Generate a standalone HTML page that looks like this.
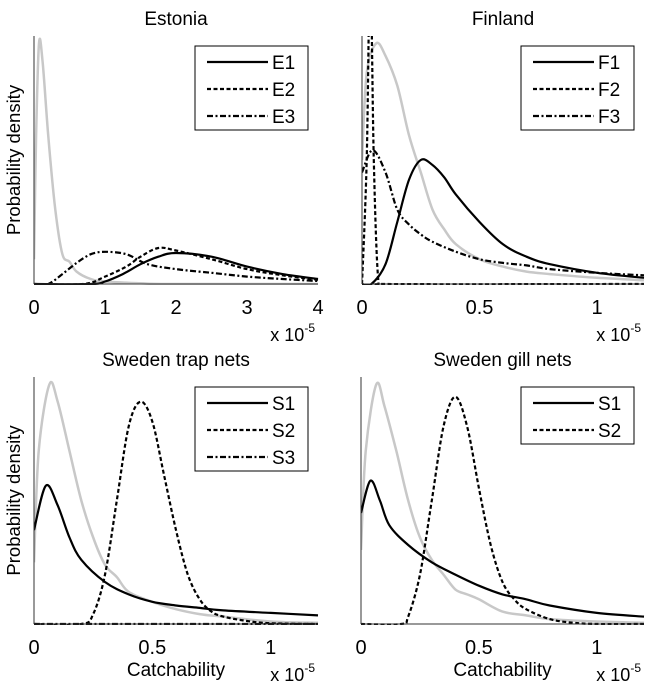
<!DOCTYPE html>
<html><head><meta charset="utf-8"><style>
html,body{margin:0;padding:0;background:#fff;}
svg{display:block;font-family:"Liberation Sans",Arial,sans-serif;}
</style></head><body>
<svg id="chart" width="651" height="691" viewBox="0 0 651 691"></svg>
<script>
// ---- data (x in 1e-5 units, y as fraction of panel height) ----
const estGrayX=[0,0.03,0.07,0.12,0.2,0.3,0.4,0.5,0.6,0.8,1.0,1.5,2.0,4.0];
const estGrayY=[0.1,0.6,0.97,0.9,0.6,0.3,0.12,0.09,0.05,0.02,0.01,0.003,0,0];
const e1X=[0,0.8,1.0,1.25,1.5,1.75,2.0,2.5,3.0,3.5,4.0];
const e1Y=[0,0,0.01,0.04,0.08,0.11,0.125,0.11,0.07,0.04,0.02];
const e2X=[0,0.7,1.0,1.3,1.5,1.75,2.0,2.5,3.0,3.5,4.0];
const e2Y=[0,0,0.03,0.07,0.11,0.145,0.135,0.1,0.06,0.035,0.017];
const e3X=[0,0.2,0.4,0.6,0.8,1.0,1.3,1.6,2.0,2.5,3.0,3.5,4.0];
const e3Y=[0,0,0.04,0.085,0.12,0.13,0.12,0.08,0.06,0.045,0.03,0.02,0.012];

const finGrayX=[0,0.02,0.06,0.1,0.15,0.2,0.25,0.3,0.35,0.4,0.5,0.6,0.7,0.8,1.0,1.2];
const finGrayY=[0.5,0.85,0.97,0.92,0.8,0.6,0.45,0.3,0.22,0.16,0.1,0.07,0.05,0.04,0.025,0.015];
const f1X=[0,0.04,0.1,0.15,0.2,0.25,0.3,0.35,0.4,0.5,0.6,0.7,0.8,1.0,1.2];
const f1Y=[0,0,0.08,0.25,0.42,0.5,0.48,0.43,0.36,0.25,0.16,0.11,0.08,0.045,0.025];
const f2X=[0,0.02,0.035,0.05,0.07,0.1,1.2];
const f2Y=[0,0.5,1.3,0.5,0.01,0,0];
const f3X=[0,0.045,0.1,0.15,0.2,0.25,0.3,0.4,0.5,0.6,0.7,0.8,1.0,1.2];
const f3Y=[0.45,0.54,0.45,0.3,0.24,0.2,0.17,0.13,0.1,0.085,0.075,0.06,0.045,0.035];

const trapGrayX=[0,0.02,0.065,0.1,0.15,0.2,0.25,0.3,0.35,0.4,0.5,0.6,0.7,0.8,1.0,1.2];
const trapGrayY=[0.25,0.7,0.97,0.9,0.7,0.5,0.35,0.24,0.19,0.13,0.09,0.06,0.04,0.03,0.01,0.005];
const ts1X=[0,0.05,0.1,0.15,0.2,0.3,0.4,0.5,0.6,0.7,0.8,1.0,1.2];
const ts1Y=[0.38,0.56,0.48,0.35,0.26,0.17,0.12,0.09,0.075,0.065,0.055,0.045,0.035];
const ts2X=[0,0.2,0.25,0.3,0.35,0.4,0.45,0.5,0.55,0.6,0.65,0.7,0.75,0.8,0.9,1.0,1.2];
const ts2Y=[0,0,0.04,0.2,0.5,0.8,0.9,0.82,0.6,0.38,0.2,0.1,0.05,0.03,0.012,0.003,0];
const ts3X=[0,1.2];
const ts3Y=[0,0];

const gillGrayX=[0,0.02,0.065,0.1,0.15,0.2,0.25,0.3,0.35,0.4,0.45,0.5,0.6,0.7,0.8,1.0,1.2];
const gillGrayY=[0.3,0.7,0.97,0.88,0.7,0.5,0.35,0.26,0.2,0.14,0.12,0.1,0.05,0.035,0.02,0.01,0.005];
const gs1X=[0,0.04,0.08,0.12,0.2,0.3,0.4,0.5,0.6,0.7,0.8,1.0,1.2];
const gs1Y=[0.45,0.58,0.5,0.4,0.32,0.25,0.2,0.155,0.12,0.1,0.075,0.045,0.03];
const gs2X=[0,0.17,0.2,0.25,0.3,0.35,0.4,0.45,0.5,0.55,0.6,0.65,0.7,0.8,0.9,1.0,1.2];
const gs2Y=[0,0,0.03,0.2,0.5,0.8,0.92,0.8,0.55,0.32,0.17,0.1,0.06,0.02,0.005,0,0];

const estTicks=["0","1","2","3","4"];
const estTickVals=[0,1,2,3,4];
const finTicks=["0","0.5","1"];
const finTickVals=[0,0.5,1];

const NS="http://www.w3.org/2000/svg";
const svg=document.getElementById('chart');
function mk(tag,attrs,parent){const e=document.createElementNS(NS,tag);for(const k in attrs)e.setAttribute(k,attrs[k]);(parent||svg).appendChild(e);return e;}
function smooth(pts){let d="M"+pts[0][0].toFixed(1)+","+pts[0][1].toFixed(1);
 for(let i=0;i<pts.length-1;i++){const p0=pts[Math.max(0,i-1)],p1=pts[i],p2=pts[i+1],p3=pts[Math.min(pts.length-1,i+2)];
  const c1=[p1[0]+(p2[0]-p0[0])/6,p1[1]+(p2[1]-p0[1])/6],c2=[p2[0]-(p3[0]-p1[0])/6,p2[1]-(p3[1]-p1[1])/6];
  d+=" C"+c1[0].toFixed(1)+","+c1[1].toFixed(1)+" "+c2[0].toFixed(1)+","+c2[1].toFixed(1)+" "+p2[0].toFixed(1)+","+p2[1].toFixed(1);}
 return d;}
const styles={solid:{stroke:"#000",dash:null},dash:{stroke:"#000",dash:"4,2.5"},dashdot:{stroke:"#000",dash:"6,2.5,2,2.5"},gray:{stroke:"#c8c8c8",dash:null}};

let clipN=0;
function panel(o){
 const g=mk('g',{});
 
 
 const x=v=>o.x0+(v-o.xmin)/(o.xmax-o.xmin)*(o.x1-o.x0);
 const y=v=>o.yb-v*(o.yb-o.yt);
 const cid='clip'+(clipN++);
 const cp=mk('clipPath',{id:cid},g);mk('rect',{x:o.x0,y:o.yt,width:o.x1-o.x0+2,height:o.yb-o.yt+1},cp);
 const cg=mk('g',{'clip-path':'url(#'+cid+')'},g);
 o.series.forEach(s=>{
  const st=styles[s.style];
  const p=mk('path',{d:smooth(s.xs.map((v,i)=>[x(v),y(s.ys[i])])),fill:'none',stroke:st.stroke,'stroke-width':s.style==='gray'?2.5:2.2,'stroke-linejoin':'round'},cg);
  if(st.dash)p.setAttribute('stroke-dasharray',st.dash);
  
  
 });
 const ya=mk('line',{x1:o.x0,y1:o.yt,x2:o.x0,y2:o.yb,stroke:'#333','stroke-width':1},g);
 
 const xa=mk('line',{x1:o.x0,y1:o.yb,x2:o.x1,y2:o.yb,stroke:'#333','stroke-width':1},g);
 
 o.tickVals.forEach((v,i)=>{
  const t=mk('text',{x:x(v),y:o.yb+30,'text-anchor':'middle','font-size':20},g);t.textContent=o.ticks[i];
  
 });
 const ex=mk('text',{x:o.x1-3,y:o.yb+57,'text-anchor':'end','font-size':18},g);
 
 ex.innerHTML='x 10<tspan dy="-9" font-size="12">-5</tspan>';
 const ti=mk('text',{x:(o.x0+o.x1)/2,y:o.yt-11,'text-anchor':'middle','font-size':19},g);ti.textContent=o.title;
 
 if(o.ylabel){const yl=mk('text',{x:0,y:0,'text-anchor':'middle','font-size':18.5,transform:'translate('+(o.x0-14)+','+((o.yt+o.yb)/2)+') rotate(-90)'},g);yl.textContent='Probability density';
  }
 if(o.xlabel){const xl=mk('text',{x:(o.x0+o.x1)/2,y:o.yb+52,'text-anchor':'middle','font-size':19},g);xl.textContent='Catchability';
  }
 // legend
 const leg=o.series.filter(s=>s.label);
 const lx=o.x1-123,ly=o.yt+10,lw=113,lh=leg.length*27+3;
 const lg=mk('g',{},g);
 mk('rect',{x:lx,y:ly,width:lw,height:lh,fill:'#fff',stroke:'#000','stroke-width':1},lg);
 leg.forEach((s,i)=>{
  const cy=ly+16+i*27;const st=styles[s.style];
  const e=mk('g',{},lg);
  const l=mk('line',{x1:lx+12,y1:cy,x2:lx+73,y2:cy,stroke:st.stroke,'stroke-width':2.2},e);
  if(st.dash)l.setAttribute('stroke-dasharray',st.dash);
  const t=mk('text',{x:lx+77,y:cy+7,'font-size':19},e);t.textContent=s.label;
 });
}
panel({name:'panel-estonia',title:'Estonia',x0:34,x1:318,yt:36,yb:284,xmin:0,xmax:4,ticks:estTicks,tickVals:estTickVals,ylabel:true,
 series:[{name:'gray-prior',style:'gray',xs:estGrayX,ys:estGrayY},{name:'line-e1',style:'solid',xs:e1X,ys:e1Y,label:'E1'},{name:'line-e2',style:'dash',xs:e2X,ys:e2Y,label:'E2'},{name:'line-e3',style:'dashdot',xs:e3X,ys:e3Y,label:'E3'}]});
panel({name:'panel-finland',title:'Finland',x0:362,x1:644,yt:36,yb:284,xmin:0,xmax:1.2,ticks:finTicks,tickVals:finTickVals,
 series:[{name:'gray-prior',style:'gray',xs:finGrayX,ys:finGrayY},{name:'line-f1',style:'solid',xs:f1X,ys:f1Y,label:'F1'},{name:'line-f2',style:'dash',xs:f2X,ys:f2Y,label:'F2'},{name:'line-f3',style:'dashdot',xs:f3X,ys:f3Y,label:'F3'}]});
panel({name:'panel-sweden-trap',title:'Sweden trap nets',x0:34,x1:318,yt:377,yb:624,xmin:0,xmax:1.2,ticks:finTicks,tickVals:finTickVals,ylabel:true,xlabel:true,
 series:[{name:'gray-prior',style:'gray',xs:trapGrayX,ys:trapGrayY},{name:'line-s1',style:'solid',xs:ts1X,ys:ts1Y,label:'S1'},{name:'line-s2',style:'dash',xs:ts2X,ys:ts2Y,label:'S2'},{name:'line-s3',style:'dashdot',xs:ts3X,ys:ts3Y,label:'S3'}]});
panel({name:'panel-sweden-gill',title:'Sweden gill nets',x0:361,x1:644,yt:377,yb:624,xmin:0,xmax:1.2,ticks:finTicks,tickVals:finTickVals,xlabel:true,
 series:[{name:'gray-prior',style:'gray',xs:gillGrayX,ys:gillGrayY},{name:'line-s1',style:'solid',xs:gs1X,ys:gs1Y,label:'S1'},{name:'line-s2',style:'dash',xs:gs2X,ys:gs2Y,label:'S2'}]});
</script>
</body></html>
